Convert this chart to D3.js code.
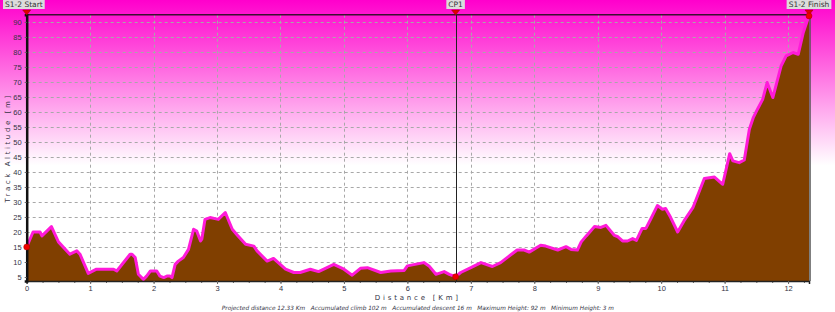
<!DOCTYPE html>
<html>
<head>
<meta charset="utf-8">
<script src="https://cdn.jsdelivr.net/npm/d3@7"></script>
<style>
  body { margin: 0; background: #fff; }
  svg { display: block; font-family: "DejaVu Sans", sans-serif; }
  .tick text { fill: #333344; font-size: 7.5px; }
</style>
</head>
<body>
<svg width="835" height="312"></svg>
<script>
// profile: distance (km) and altitude (m)
const distance = [0, 0.1, 0.21, 0.24, 0.39, 0.5, 0.68, 0.79, 0.84, 0.97, 1.1, 1.37, 1.42, 1.63, 1.66, 1.71, 1.76, 1.84, 1.89, 1.95, 2.05, 2.1, 2.16, 2.21, 2.26, 2.29, 2.34, 2.39, 2.47, 2.55, 2.63, 2.68, 2.74, 2.76, 2.81, 2.89, 3.02, 3.13, 3.24, 3.31, 3.45, 3.58, 3.63, 3.79, 3.89, 4.08, 4.21, 4.31, 4.47, 4.6, 4.84, 5.0, 5.13, 5.26, 5.37, 5.58, 5.74, 5.95, 6.0, 6.26, 6.34, 6.45, 6.58, 6.66, 6.76, 6.84, 7.0, 7.16, 7.34, 7.47, 7.73, 7.84, 7.92, 8.1, 8.18, 8.37, 8.5, 8.58, 8.68, 8.74, 8.82, 8.95, 9.05, 9.13, 9.26, 9.31, 9.39, 9.47, 9.55, 9.61, 9.7, 9.76, 9.84, 9.94, 10.02, 10.07, 10.15, 10.26, 10.36, 10.5, 10.68, 10.84, 10.97, 11.08, 11.13, 11.23, 11.31, 11.39, 11.45, 11.52, 11.6, 11.67, 11.76, 11.89, 11.97, 12.08, 12.16, 12.24, 12.31, 12.33];
const altitude = [15, 20, 20, 18.7, 21.8, 16.7, 12.6, 13.7, 12.6, 6.2, 7.6, 7.6, 7, 12.6, 12.6, 11.5, 5.9, 4.2, 5.3, 7, 7, 5.3, 4.8, 5.3, 5.3, 4.8, 9.2, 10.3, 11.5, 14.2, 20.9, 20.3, 17, 17.6, 24.2, 24.8, 24.2, 26.5, 20.9, 19.2, 15.9, 15.3, 13.7, 10.3, 11.2, 7.6, 6.5, 6.5, 7.6, 6.8, 9.2, 7.6, 5.6, 7.9, 8.1, 6.5, 7, 7.2, 8.7, 9.8, 8.7, 5.9, 6.8, 5.9, 5.1, 6.5, 8.1, 9.8, 8.5, 9.8, 14, 14, 13.3, 15.6, 15.3, 14, 15.1, 14.2, 14, 16.7, 18.7, 21.8, 21.5, 22.2, 18.9, 18.5, 17, 17, 17.8, 17.2, 21.2, 21.2, 24.5, 28.8, 27.6, 27.8, 24.8, 20, 23.7, 28.1, 37.8, 38.3, 35.9, 46.1, 43.7, 43.1, 44, 54.2, 58, 61, 64.2, 69.8, 64.8, 75.3, 78.7, 79.8, 79.2, 86.5, 90.9, 92];
const profile = distance.map((d, i) => ({d: d, a: altitude[i]}));

const xTicks = [0, 1, 2, 3, 4, 5, 6, 7, 8, 9, 10, 11, 12];
const yTicks = [5, 10, 15, 20, 25, 30, 35, 40, 45, 50, 55, 60, 65, 70, 75, 80, 85, 90];

const waypoints = [
  {name: "S1-2 Start", d: 0, a: 15},
  {name: "CP1", d: 6.76, a: 5.1},
  {name: "S1-2 Finish", d: 12.33, a: 92}
];

const summary = "Projected distance 12.33 Km   Accumulated climb 102 m   Accumulated descent 16 m   Maximum Height: 92 m   Minimum Height: 3 m";

const svg = d3.select("svg");
const width = 835, height = 312;
const plotLeft = 26.7, plotRight = 809, plotTop = 14.7, plotBottom = 281;

const x = d3.scaleLinear().domain([0, 12.33]).range([plotLeft, plotRight]);
const y = d3.scaleLinear().domain([3.67, 92.4]).range([plotBottom, plotTop]);

// background gradient
const defs = svg.append("defs");
const grad = defs.append("linearGradient")
  .attr("id", "bg")
  .attr("x1", 0).attr("y1", 0).attr("x2", 0).attr("y2", 1);
grad.append("stop").attr("offset", "0%").attr("stop-color", "#ff00cc");
grad.append("stop").attr("offset", "53%").attr("stop-color", "#ffffff");
grad.append("stop").attr("offset", "100%").attr("stop-color", "#ffffff");

svg.append("rect")
  .attr("width", width)
  .attr("height", height)
  .attr("fill", "url(#bg)");

// grid
svg.append("g")
  .selectAll("line")
  .data(yTicks)
  .enter()
  .append("line")
  .attr("x1", plotLeft).attr("x2", plotRight)
  .attr("y1", d => Math.round(y(d)) + 0.5)
  .attr("y2", d => Math.round(y(d)) + 0.5)
  .attr("stroke", "#a8a8a8")
  .attr("stroke-dasharray", "3,3");

svg.append("g")
  .selectAll("line")
  .data(xTicks.slice(1))
  .enter()
  .append("line")
  .attr("x1", d => Math.round(x(d)) + 0.5)
  .attr("x2", d => Math.round(x(d)) + 0.5)
  .attr("y1", plotTop).attr("y2", plotBottom)
  .attr("stroke", "#a8a8a8")
  .attr("stroke-dasharray", "3,3");

// profile
const area = d3.area()
  .x(d => x(d.d))
  .y0(plotBottom)
  .y1(d => y(d.a));

const line = d3.line()
  .x(d => x(d.d))
  .y(d => y(d.a));

svg.append("path")
  .datum(profile)
  .attr("d", area)
  .attr("fill", "#803f00");

svg.append("path")
  .datum(profile)
  .attr("d", line)
  .attr("fill", "none")
  .attr("stroke", "#ff1ad9")
  .attr("stroke-width", 3)
  .attr("stroke-linejoin", "round");

// frame
svg.append("line")
  .attr("x1", plotLeft).attr("x2", plotRight)
  .attr("y1", plotTop).attr("y2", plotTop)
  .attr("stroke", "#3a1030").attr("stroke-width", 1.5);

svg.append("line")
  .attr("x1", plotRight + 1).attr("x2", plotRight + 1)
  .attr("y1", plotTop).attr("y2", plotBottom)
  .attr("stroke", "#555").attr("stroke-width", 1.5);

// axes
const xAxis = d3.axisBottom(x)
  .tickValues(xTicks)
  .tickFormat(d3.format("d"))
  .tickSize(3);

const xMinor = d3.axisBottom(x)
  .tickValues(d3.range(0, 12.33, 0.25))
  .tickFormat("")
  .tickSize(2);

svg.append("g")
  .attr("transform", `translate(0, ${plotBottom})`)
  .call(xMinor)
  .call(g => g.select(".domain").remove())
  .call(g => g.selectAll("line").attr("stroke", "#666"));

svg.append("g")
  .attr("transform", `translate(0, ${plotBottom})`)
  .call(xAxis)
  .call(g => g.select(".domain").attr("stroke", "#222").attr("stroke-width", 1.5))
  .call(g => g.selectAll(".tick line").attr("stroke", "#666"))
  .call(g => g.selectAll(".tick text").attr("y", 5).attr("dy", "0.71em"));

const yAxis = d3.axisLeft(y)
  .tickValues(yTicks)
  .tickFormat(d3.format("d"))
  .tickSize(2);

svg.append("g")
  .attr("transform", `translate(${plotLeft}, 0)`)
  .call(yAxis)
  .call(g => g.select(".domain").attr("stroke", "#111").attr("stroke-width", 2.5))
  .call(g => g.selectAll(".tick line").attr("stroke", "#666"));

// CP line
svg.append("line")
  .attr("x1", Math.round(x(6.76)) + 0.5)
  .attr("x2", Math.round(x(6.76)) + 0.5)
  .attr("y1", plotTop).attr("y2", plotBottom)
  .attr("stroke", "#222").attr("stroke-width", 1);

// waypoint markers
const wp = svg.append("g")
  .selectAll("g.wp")
  .data(waypoints)
  .enter()
  .append("g")
  .attr("class", "wp")
  .attr("transform", d => `translate(${x(d.d)}, 0)`);

wp.append("path")
  .attr("d", "M-4,10 L4,10 L0,15 Z")
  .attr("fill", "#e00000")
  .attr("stroke", "#900")
  .attr("stroke-width", 0.5);

wp.append("circle")
  .attr("cy", d => y(d.a))
  .attr("r", 3)
  .attr("fill", "#ee0000")
  .attr("stroke", "#a00")
  .attr("stroke-width", 0.5);

wp.each(function(d, i) {
  const g = d3.select(this);
  const t = g.append("text")
    .attr("y", 6.8)
    .attr("font-size", 7.5)
    .attr("fill", "#333")
    .text(d.name);
  const w = t.node().getComputedTextLength();
  let tx = -w / 2;
  if (i === 0) tx = -x(d.d) + 5;
  if (i === waypoints.length - 1) tx = Math.min(-w / 2, width - x(d.d) - w - 2);
  t.attr("x", tx);
  g.insert("rect", "text")
    .attr("x", tx - 2)
    .attr("y", 0)
    .attr("width", w + 4)
    .attr("height", 9)
    .attr("fill", "#dcdcdc");
});

// titles
svg.append("text")
  .attr("transform", `translate(10, ${(plotTop + plotBottom) / 2}) rotate(-90)`)
  .attr("text-anchor", "middle")
  .attr("font-size", 7)
  .attr("letter-spacing", "2.6px")
  .attr("fill", "#333344")
  .text("Track Altitude [m]");

svg.append("text")
  .attr("x", (plotLeft + plotRight) / 2)
  .attr("y", 300)
  .attr("text-anchor", "middle")
  .attr("font-size", 7)
  .attr("letter-spacing", "2.8px")
  .attr("fill", "#333344")
  .text("Distance [Km]");

svg.append("text")
  .attr("x", (plotLeft + plotRight) / 2)
  .attr("y", 310)
  .attr("text-anchor", "middle")
  .attr("font-size", 5.8)
  .attr("font-style", "italic")
  .attr("fill", "#333344")
  .style("white-space", "pre")
  .text(summary);
</script>
</body>
</html>
